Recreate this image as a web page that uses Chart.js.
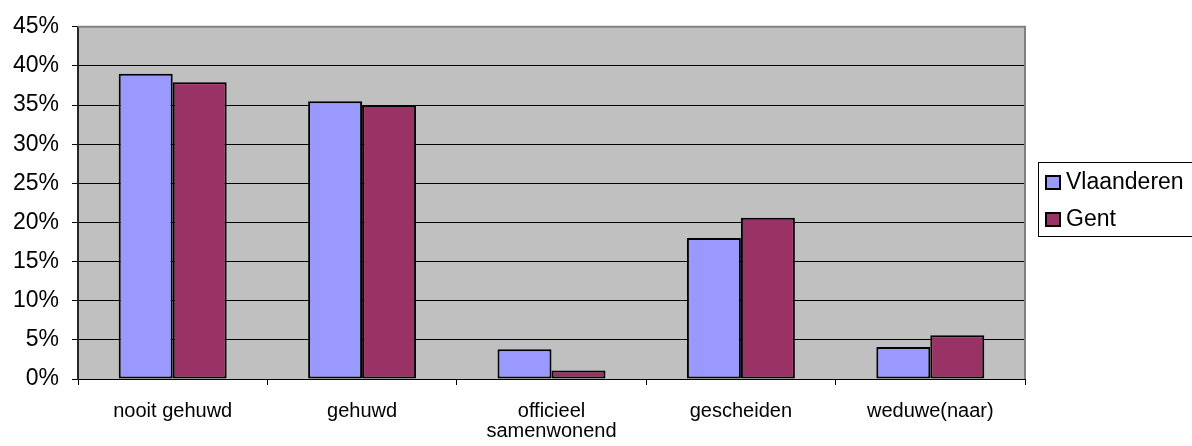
<!DOCTYPE html>
<html>
<head>
<meta charset="utf-8">
<script src="https://cdn.jsdelivr.net/npm/chart.js@4"></script>
<style>
  html, body { margin: 0; padding: 0; background: #ffffff; }
  #wrap { width: 1192px; height: 446px; }
</style>
</head>
<body>
<div id="wrap"><canvas id="c" width="1192" height="446"></canvas></div>
<script>
// Burgerlijke staat: aandeel per categorie (%)
const categories = ['nooit gehuwd', 'gehuwd', ['officieel', 'samenwonend'], 'gescheiden', 'weduwe(naar)'];
const seriesNames = ['Vlaanderen', 'Gent'];
const vlaanderen = [39.0, 35.5, 3.8, 18.0, 4.1];
const gent = [37.9, 35.0, 1.1, 20.6, 5.6];
const yTicks = [0, 5, 10, 15, 20, 25, 30, 35, 40, 45];

const FONT = '"Liberation Sans", Arial, Helvetica, sans-serif';
const colors = ['#9999FF', '#993366'];

// Grey plot background plus the plot frame
const plotFrame = {
  id: 'plotFrame',
  beforeDraw(chart) {
    const { ctx, chartArea: a } = chart;
    ctx.save();
    ctx.fillStyle = '#C0C0C0';
    ctx.fillRect(a.left, a.top, a.right - a.left, a.bottom - a.top);
    ctx.restore();
  },
  beforeDatasetsDraw(chart) {
    const { ctx, chartArea: a } = chart;
    ctx.save();
    ctx.strokeStyle = '#808080';
    ctx.lineWidth = 2;
    ctx.beginPath();
    ctx.moveTo(a.left, a.top);
    ctx.lineTo(a.right, a.top);
    ctx.lineTo(a.right, a.bottom);
    ctx.stroke();
    ctx.restore();
  }
};

// Boxed legend at the right of the plot
const boxLegend = {
  id: 'boxLegend',
  afterDraw(chart) {
    const { ctx } = chart;
    ctx.save();
    ctx.strokeStyle = '#000000';
    ctx.lineWidth = 1;
    ctx.strokeRect(1038.5, 162.5, 170, 74);
    ctx.font = '23px ' + FONT;
    ctx.textBaseline = 'middle';
    ctx.textAlign = 'left';
    const rows = [182, 219];
    chart.data.datasets.forEach((ds, i) => {
      const cy = rows[i];
      ctx.fillStyle = ds.backgroundColor;
      ctx.fillRect(1046, cy - 6, 14, 13);
      ctx.strokeStyle = '#000000';
      ctx.lineWidth = 2;
      ctx.strokeRect(1046, cy - 6, 14, 13);
      ctx.fillStyle = '#000000';
      ctx.fillText(ds.label, 1066, cy + 1);
    });
    ctx.restore();
  }
};

new Chart(document.getElementById('c'), {
  type: 'bar',
  data: {
    labels: categories,
    datasets: [
      { label: seriesNames[0], data: vlaanderen, backgroundColor: colors[0], borderColor: '#000000', borderWidth: 2, borderSkipped: false },
      { label: seriesNames[1], data: gent, backgroundColor: colors[1], borderColor: '#000000', borderWidth: 2, borderSkipped: false }
    ]
  },
  options: {
    responsive: false,
    animation: false,
    events: [],
    layout: { padding: { top: 23, right: 167, left: 0, bottom: 0 } },
    datasets: { bar: { categoryPercentage: 0.57, barPercentage: 1.0 } },
    plugins: {
      legend: { display: false },
      tooltip: { enabled: false }
    },
    scales: {
      x: {
        offset: true,
        grid: { offset: true, drawOnChartArea: false, drawTicks: true, tickLength: 6, color: '#000000', lineWidth: 1 },
        border: { display: true, color: '#000000', width: 1 },
        ticks: {
          color: '#000000',
          padding: 16,
          maxRotation: 0,
          autoSkip: false,
          font: { family: FONT, size: 20, lineHeight: 1 }
        },
        afterFit(s) { s.height = 67; }
      },
      y: {
        min: 0,
        max: 45,
        afterBuildTicks(s) { s.ticks = yTicks.map(v => ({ value: v })); },
        grid: { color: '#000000', lineWidth: 1, drawTicks: true, tickLength: 6 },
        border: { display: true, color: '#262626', width: 2 },
        ticks: {
          color: '#000000',
          padding: 13,
          font: { family: FONT, size: 23 },
          callback: v => v + '%'
        },
        afterFit(s) { s.width = 78; }
      }
    }
  },
  plugins: [plotFrame, boxLegend]
});
</script>
</body>
</html>
